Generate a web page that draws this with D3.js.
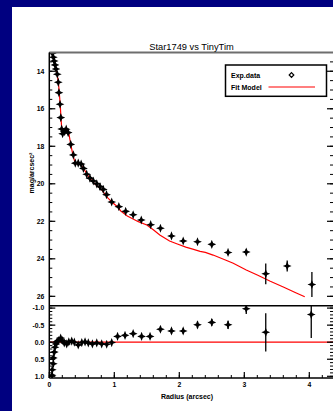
<!DOCTYPE html>
<html>
<head>
<meta charset="utf-8">
<script src="https://cdn.jsdelivr.net/npm/d3@7"></script>
<style>
  html, body { margin: 0; padding: 0; background: #000080; }
  svg { display: block; }
  text { font-family: "Liberation Sans", Arial, sans-serif; fill: #000; }
</style>
</head>
<body>
<script>
// measured profile (radius in arcsec, surface brightness mag/arcsec^2, error)
const radius = [0.046, 0.062, 0.075, 0.088, 0.103, 0.123, 0.138, 0.148, 0.165, 0.177,
  0.19, 0.205, 0.23, 0.26, 0.29, 0.33, 0.37, 0.40, 0.445, 0.49,
  0.525, 0.575, 0.625, 0.677, 0.73, 0.78, 0.83, 0.88, 0.96, 1.07,
  1.175, 1.29, 1.415, 1.56, 1.71, 1.88, 2.06, 2.28, 2.5, 2.75,
  3.03, 3.33, 3.66, 4.04];
const mag = [13.04, 13.25, 13.45, 13.66, 13.88, 14.16, 14.59, 15.14, 15.76, 16.47,
  17.08, 17.33, 17.22, 17.09, 17.27, 17.9, 18.46, 18.9, 18.9, 18.95,
  19.18, 19.49, 19.7, 19.85, 20.0, 20.15, 20.3, 20.58, 20.97, 21.22,
  21.47, 21.65, 21.93, 22.18, 22.37, 22.78, 23.05, 23.09, 23.23, 23.66,
  23.64, 24.8, 24.38, 25.37];
const magErr = [0.05, 0.05, 0.05, 0.05, 0.05, 0.05, 0.05, 0.05, 0.05, 0.05,
  0.05, 0.05, 0.05, 0.05, 0.05, 0.05, 0.05, 0.05, 0.05, 0.05,
  0.05, 0.05, 0.05, 0.05, 0.05, 0.05, 0.05, 0.05, 0.05, 0.05,
  0.05, 0.05, 0.05, 0.05, 0.05, 0.08, 0.08, 0.08, 0.1, 0.12,
  0.15, 0.55, 0.29, 0.67];

// TinyTim fit model
const modelR = [0.03, 0.06, 0.09, 0.12, 0.14, 0.155, 0.17, 0.18, 0.19, 0.21,
  0.24, 0.27, 0.3, 0.33, 0.36, 0.39, 0.43, 0.48, 0.53, 0.6,
  0.7, 0.8, 0.9, 0.97, 1.04, 1.1, 1.2, 1.37, 1.5, 1.6,
  1.7, 1.85, 1.96, 2.1, 2.22, 2.32, 2.4, 2.52, 2.7, 2.83,
  3.03, 3.2, 3.4, 3.6, 3.8, 3.93];
const modelMag = [12.8, 13.25, 13.7, 14.15, 14.6, 15.2, 15.9, 16.5, 17.0, 17.25,
  17.15, 17.1, 17.3, 17.9, 18.4, 18.8, 18.95, 18.95, 19.2, 19.6,
  20.0, 20.3, 20.75, 21.0, 21.2, 21.45, 21.72, 22.02, 22.2, 22.45,
  22.73, 23.05, 23.2, 23.38, 23.5, 23.6, 23.66, 23.8, 24.05, 24.24,
  24.6, 24.86, 25.2, 25.5, 25.82, 26.02];

// residuals (lower panel)
const residR = [0.043, 0.046, 0.062, 0.062, 0.077, 0.088, 0.103, 0.118, 0.138, 0.175,
  0.2, 0.23, 0.268, 0.30, 0.345, 0.385, 0.445, 0.5, 0.55, 0.6,
  0.663, 0.73, 0.806, 0.883, 0.96, 1.05, 1.165, 1.29, 1.42, 1.55,
  1.71, 1.88, 2.06, 2.28, 2.5, 2.75, 3.03, 3.33, 4.03];
const resid = [0.97, 0.81, 0.63, 0.46, 0.29, 0.15, 0.05, -0.01, -0.05, -0.12,
  -0.05, 0.02, 0.05, -0.01, -0.03, 0.0, 0.08, 0.01, -0.01, 0.02,
  0.05, 0.02, 0.05, 0.06, 0.01, -0.17, -0.2, -0.25, -0.17, -0.17,
  -0.38, -0.33, -0.33, -0.51, -0.58, -0.51, -0.98, -0.29, -0.81];
const residErr = [0.05, 0.05, 0.05, 0.05, 0.05, 0.05, 0.05, 0.05, 0.05, 0.05,
  0.05, 0.05, 0.05, 0.05, 0.05, 0.05, 0.05, 0.05, 0.05, 0.05,
  0.05, 0.05, 0.05, 0.05, 0.05, 0.05, 0.05, 0.05, 0.05, 0.05,
  0.08, 0.08, 0.08, 0.1, 0.1, 0.12, 0.15, 0.56, 0.69];

const magTicks = [14, 16, 18, 20, 22, 24, 26];
const residTicks = [-1.0, -0.5, 0.0, 0.5, 1.0];
const radiusTicks = [0, 1, 2, 3, 4];

const W = 333, H = 411;
const left = 49.3, right = 335.3;
const mainTop = 52.5, mainBottom = 305.7, resBottom = 378;

const svg = d3.select('body').append('svg')
  .attr('width', W)
  .attr('height', H);

// white page on the blue slide
svg.append('rect').attr('x', 12).attr('y', 7).attr('width', W - 12).attr('height', H - 7).attr('fill', '#fff');

const x = d3.scaleLinear().domain([0, 4.4]).range([left, right]);
const y = d3.scaleLinear().domain([13, 26.5]).range([mainTop, mainBottom]);
const yr = d3.scaleLinear().domain([-1.07, 1.05]).range([mainBottom, resBottom]);

const defs = svg.append('defs');
defs.append('clipPath').attr('id', 'clipMain').append('rect')
  .attr('x', left).attr('y', mainTop).attr('width', right - left).attr('height', mainBottom - mainTop);
defs.append('clipPath').attr('id', 'clipRes').append('rect')
  .attr('x', left).attr('y', mainBottom).attr('width', right - left).attr('height', resBottom - mainBottom);

const star = 'M0,-4.6L1.3,-1.3L4.4,0L1.3,1.3L0,4.6L-1.3,1.3L-4.4,0L-1.3,-1.3Z';

// ---- upper panel ----
const gMain = svg.append('g').attr('clip-path', 'url(#clipMain)');

gMain.append('path')
  .datum(modelR.map((r, i) => [r, modelMag[i]]))
  .attr('fill', 'none')
  .attr('stroke', '#ff0000')
  .attr('stroke-width', 1.2)
  .attr('d', d3.line().x(d => x(d[0])).y(d => y(d[1])));

gMain.selectAll('.err')
  .data(radius.map((r, i) => [r, mag[i], magErr[i]]))
  .enter().append('line')
    .attr('x1', d => x(d[0])).attr('x2', d => x(d[0]))
    .attr('y1', d => y(d[1] - d[2])).attr('y2', d => y(d[1] + d[2]))
    .attr('stroke', '#000').attr('stroke-width', 1.3);

gMain.selectAll('.pt')
  .data(radius.map((r, i) => [r, mag[i]]))
  .enter().append('path')
    .attr('d', star)
    .attr('transform', d => 'translate(' + x(d[0]) + ',' + y(d[1]) + ')')
    .attr('fill', '#000');

// ---- lower panel ----
const gRes = svg.append('g').attr('clip-path', 'url(#clipRes)');

gRes.append('line')
  .attr('x1', x(0)).attr('x2', right)
  .attr('y1', yr(0)).attr('y2', yr(0))
  .attr('stroke', '#ff0000').attr('stroke-width', 1.2);

gRes.selectAll('.err')
  .data(residR.map((r, i) => [r, resid[i], residErr[i]]))
  .enter().append('line')
    .attr('x1', d => x(d[0])).attr('x2', d => x(d[0]))
    .attr('y1', d => yr(d[1] - d[2])).attr('y2', d => yr(d[1] + d[2]))
    .attr('stroke', '#000').attr('stroke-width', 1.3);

gRes.selectAll('.pt')
  .data(residR.map((r, i) => [r, resid[i]]))
  .enter().append('path')
    .attr('d', star)
    .attr('transform', d => 'translate(' + x(d[0]) + ',' + yr(d[1]) + ')')
    .attr('fill', '#000');

// ---- axes ----
function ticksY(scale, major, minorStep, lo, hi, fmt) {
  const g = svg.append('g');
  const minor = d3.range(lo, hi + 1e-9, minorStep);
  g.selectAll('.mnl').data(minor).enter().append('line')
    .attr('x1', left).attr('x2', left + 3)
    .attr('y1', d => scale(d)).attr('y2', d => scale(d))
    .attr('stroke', '#000').attr('stroke-width', 1);
  g.selectAll('.mnr').data(minor).enter().append('line')
    .attr('x1', W - 3).attr('x2', W)
    .attr('y1', d => scale(d)).attr('y2', d => scale(d))
    .attr('stroke', '#000').attr('stroke-width', 1);
  g.selectAll('.mjl').data(major).enter().append('line')
    .attr('x1', left).attr('x2', left + 6)
    .attr('y1', d => scale(d)).attr('y2', d => scale(d))
    .attr('stroke', '#000').attr('stroke-width', 1.2);
  g.selectAll('.mjr').data(major).enter().append('line')
    .attr('x1', W - 6).attr('x2', W)
    .attr('y1', d => scale(d)).attr('y2', d => scale(d))
    .attr('stroke', '#000').attr('stroke-width', 1.2);
  g.selectAll('text').data(major).enter().append('text')
    .attr('x', left - 5)
    .attr('y', d => scale(d) + 2.4)
    .attr('text-anchor', 'end')
    .style('font-size', '6.8px')
    .style('font-weight', 'bold')
    .text(fmt);
}

ticksY(y, magTicks, 0.5, 13, 26.5, d => d);
ticksY(yr, residTicks, 0.1, -1.0, 1.0, d => d3.format('.1f')(d).replace('−', '-'));

// bottom x axis
const gx = svg.append('g');
gx.selectAll('.mn').data(d3.range(0, 4.4, 0.2)).enter().append('line')
  .attr('x1', d => x(d)).attr('x2', d => x(d))
  .attr('y1', resBottom).attr('y2', resBottom - 3)
  .attr('stroke', '#000').attr('stroke-width', 1);
gx.selectAll('.mj').data(radiusTicks).enter().append('line')
  .attr('x1', d => x(d)).attr('x2', d => x(d))
  .attr('y1', resBottom).attr('y2', resBottom - 6)
  .attr('stroke', '#000').attr('stroke-width', 1.2);
gx.selectAll('text').data(radiusTicks).enter().append('text')
  .attr('x', d => x(d))
  .attr('y', resBottom + 9)
  .attr('text-anchor', 'middle')
  .style('font-size', '6.8px')
  .style('font-weight', 'bold')
  .text(d => d);

// frames
svg.append('line').attr('x1', left).attr('x2', W).attr('y1', mainTop).attr('y2', mainTop)
  .attr('stroke', '#6e6e6e').attr('stroke-width', 2);
svg.append('line').attr('x1', left).attr('x2', W).attr('y1', mainBottom).attr('y2', mainBottom)
  .attr('stroke', '#000').attr('stroke-width', 1.5);
svg.append('line').attr('x1', left).attr('x2', W).attr('y1', resBottom).attr('y2', resBottom)
  .attr('stroke', '#000').attr('stroke-width', 1.5);
svg.append('line').attr('x1', left).attr('x2', left).attr('y1', mainTop).attr('y2', resBottom)
  .attr('stroke', '#000').attr('stroke-width', 1.5);

// title and labels
svg.append('text')
  .attr('x', 191.5).attr('y', 49.5)
  .attr('text-anchor', 'middle')
  .style('font-size', '9.3px')
  .text('Star1749 vs TinyTim');

svg.append('text')
  .attr('x', 187).attr('y', 398.5)
  .attr('text-anchor', 'middle')
  .style('font-size', '7px')
  .style('font-weight', 'bold')
  .text('Radius (arcsec)');

svg.append('text')
  .attr('transform', 'translate(34,173) rotate(-90)')
  .attr('text-anchor', 'middle')
  .style('font-size', '7px')
  .style('font-weight', 'bold')
  .text('mag/arcsec²');

// legend
const lg = svg.append('g');
lg.append('rect')
  .attr('x', 225.5).attr('y', 65).attr('width', 101).attr('height', 31.3)
  .attr('fill', '#fff').attr('stroke', '#000').attr('stroke-width', 1.5);
lg.append('text').attr('x', 231).attr('y', 78).style('font-size', '7px').style('font-weight', 'bold').text('Exp.data');
lg.append('text').attr('x', 231).attr('y', 90).style('font-size', '7px').style('font-weight', 'bold').text('Fit Model');
lg.append('path')
  .attr('d', 'M0,-2.3L2.3,0L0,2.3L-2.3,0Z')
  .attr('transform', 'translate(291.5,75)')
  .attr('fill', 'none').attr('stroke', '#000').attr('stroke-width', 1.2);
lg.append('line')
  .attr('x1', 268.5).attr('x2', 315).attr('y1', 87).attr('y2', 87)
  .attr('stroke', '#ff0000').attr('stroke-width', 1.2);
</script>
</body>
</html>
